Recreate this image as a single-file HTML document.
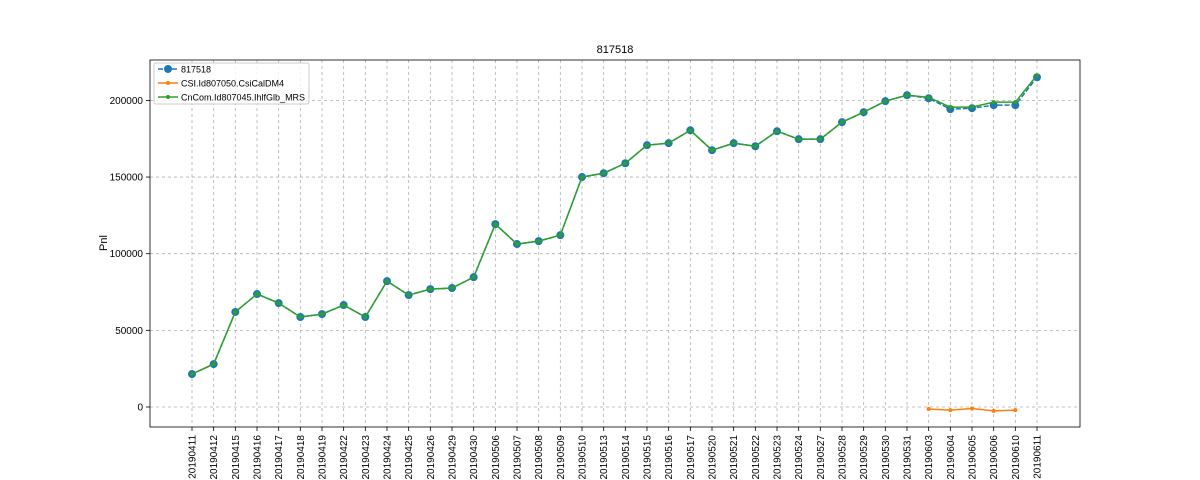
<!DOCTYPE html>
<html><head><meta charset="utf-8">
<style>
html,body{margin:0;padding:0;background:#fff;}
svg{display:block;font-family:"Liberation Sans","DejaVu Sans",sans-serif;}
</style></head>
<body>
<svg id="chart" width="1200" height="480"></svg>
<script>
const categories=["20190411","20190412","20190415","20190416","20190417","20190418","20190419","20190422","20190423","20190424","20190425","20190426","20190429","20190430","20190506","20190507","20190508","20190509","20190510","20190513","20190514","20190515","20190516","20190517","20190520","20190521","20190522","20190523","20190524","20190527","20190528","20190529","20190530","20190531","20190603","20190604","20190605","20190606","20190610","20190611"];
const seriesMain=[21500,28000,62000,73700,67800,58700,60600,66500,58700,82100,73000,76900,77600,84700,119300,106300,108200,112100,150000,152500,159000,170800,172100,180500,167500,172100,170100,179900,174700,174700,185800,192300,199500,203400,201400,194300,194900,196900,196900,215100];
const seriesCsi=[null,null,null,null,null,null,null,null,null,null,null,null,null,null,null,null,null,null,null,null,null,null,null,null,null,null,null,null,null,null,null,null,null,null,-1300,-2000,-1000,-2500,-2000,null];
const seriesCn=[21500,28000,62000,73700,67800,58700,60600,66500,58700,82100,73000,76900,77600,84700,119300,106300,108200,112100,150000,152500,159000,170800,172100,180500,167500,172100,170100,179900,174700,174700,185800,192300,199500,203400,202000,195600,195600,198900,198900,216400];
const yTicks=[0,50000,100000,150000,200000];
const legendLabels=["817518","CSI.Id807050.CsiCalDM4","CnCom.Id807045.IhlfGlb_MRS"];

const NS="http://www.w3.org/2000/svg";
const svg=document.getElementById('chart');
const L=150,R=1080,T=60,B=427;
const xPos=i=>192+i*(1037-192)/(categories.length-1);
const yPos=v=>407-v/50000*76.65;
function mk(tag,attrs,parent){const e=document.createElementNS(NS,tag);for(const k in attrs)e.setAttribute(k,attrs[k]);(parent||svg).appendChild(e);return e;}

// grid
categories.forEach((c,i)=>{
  const g=mk('line',{x1:xPos(i),x2:xPos(i),y1:T,y2:B,stroke:'#b0b0b0','stroke-width':0.8,'stroke-dasharray':'3,3'});
  
  
  const tk=mk('line',{x1:xPos(i),x2:xPos(i),y1:B,y2:B+4,stroke:'#000','stroke-width':0.8});
  
  
  const t=mk('text',{x:0,y:0,'font-size':10,'text-anchor':'end',transform:`translate(${xPos(i)+3.5},${B+8}) rotate(-90)`});
  t.textContent=c;
  
  
});
yTicks.forEach(v=>{
  const g=mk('line',{x1:L,x2:R,y1:yPos(v),y2:yPos(v),stroke:'#b0b0b0','stroke-width':0.8,'stroke-dasharray':'3,3'});
  
  
  const tk=mk('line',{x1:L-4,x2:L,y1:yPos(v),y2:yPos(v),stroke:'#000','stroke-width':0.8});
  
  
  const t=mk('text',{x:L-7,y:yPos(v)+3.5,'font-size':10,'text-anchor':'end'});
  t.textContent=v;
  
  
});
const frame=mk('rect',{x:L,y:T,width:R-L,height:B-T,fill:'none',stroke:'#000','stroke-width':0.8});



function drawSeries(data,color,dash,r,name){
  let segs=[],cur=[];
  data.forEach((v,i)=>{if(v==null){if(cur.length)segs.push(cur);cur=[];}else cur.push([xPos(i),yPos(v)]);});
  if(cur.length)segs.push(cur);
  segs.forEach(s=>{
    const p=mk('polyline',{points:s.map(q=>q.join(',')).join(' '),fill:'none',stroke:color,'stroke-width':1.5,'stroke-dasharray':dash});
    
    
    s.forEach(q=>{
      const c=mk('circle',{cx:q[0],cy:q[1],r:r,fill:color});
      
      
    });
  });
}
drawSeries(seriesMain,'#1f77b4','5,2',4,'series-817518');
drawSeries(seriesCsi,'#ff7f0e','none',2,'series-csi');
drawSeries(seriesCn,'#2ca02c','none',2,'series-cncom');

const title=mk('text',{x:615,y:53,'font-size':11,'text-anchor':'middle'});
title.textContent='817518';


const yt=mk('text',{x:0,y:0,'font-size':11,'text-anchor':'middle',transform:'translate(107,243) rotate(-90)'});
yt.textContent='Pnl';



// legend
const lg=mk('g',{});


mk('rect',{x:154,y:63,width:155,height:41,rx:2,fill:'#fff','fill-opacity':0.8,stroke:'#ccc'},lg);
const colors=['#1f77b4','#ff7f0e','#2ca02c'];
legendLabels.forEach((lab,i)=>{
  const y=69+i*14;
  const e=mk('g',{},lg);
  
  
  mk('line',{x1:158,x2:178,y1:y,y2:y,stroke:colors[i],'stroke-width':1.5,'stroke-dasharray':i==0?'5,2':'none'},e);
  mk('circle',{cx:168,cy:y,r:i==0?4:2,fill:colors[i]},e);
  const t=mk('text',{x:181,y:y+3.5,'font-size':9},e);
  t.textContent=lab;
});
</script>
</body></html>
